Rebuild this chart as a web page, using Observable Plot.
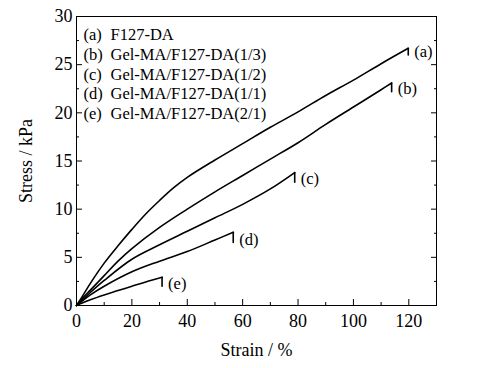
<!DOCTYPE html>
<html>
<head>
<meta charset="utf-8">
<script src="https://cdn.jsdelivr.net/npm/d3@7"></script>
<script src="https://cdn.jsdelivr.net/npm/@observablehq/plot@0.6"></script>
<style>
  html, body { margin: 0; padding: 0; background: #fff; }
  svg, svg text { font-family: "Liberation Serif", "Times New Roman", serif !important; }
</style>
</head>
<body>
<div id="chart"></div>
<script>
// Series labels
const seriesKeys = ["(a)", "(b)", "(c)", "(d)", "(e)"];
const seriesNames = ["F127-DA", "Gel-MA/F127-DA(1/3)", "Gel-MA/F127-DA(1/2)", "Gel-MA/F127-DA(1/1)", "Gel-MA/F127-DA(2/1)"];

// (a) F127-DA  (last point: end of the vertical drop at failure)
const strainA = [0, 2, 5, 10, 15, 20, 25, 30, 35, 40, 50, 60, 70, 80, 90, 100, 110, 119.8, 119.8];
const stressA = [0, 0.9, 2.3, 4.4, 6.2, 7.9, 9.5, 10.9, 12.2, 13.3, 15.1, 16.8, 18.5, 20.1, 21.8, 23.4, 25.1, 26.7, 26.0];
// (b) Gel-MA/F127-DA(1/3)
const strainB = [0, 2, 5, 10, 15, 20, 30, 40, 50, 60, 70, 80, 90, 100, 110, 113.8, 113.8];
const stressB = [0, 0.7, 1.6, 3.1, 4.6, 5.9, 8.1, 10.0, 11.8, 13.5, 15.2, 16.9, 18.8, 20.6, 22.4, 23.1, 22.2];
// (c) Gel-MA/F127-DA(1/2)
const strainC = [0, 2, 5, 10, 20, 30, 40, 50, 60, 70, 78.8, 78.8];
const stressC = [0, 0.55, 1.35, 2.6, 4.8, 6.3, 7.7, 9.1, 10.5, 12.1, 13.8, 12.8];
// (d) Gel-MA/F127-DA(1/1)
const strainD = [0, 2, 5, 10, 20, 30, 40, 50, 56.6, 56.6];
const stressD = [0, 0.45, 1.1, 2.0, 3.5, 4.6, 5.6, 6.8, 7.6, 6.55];
// (e) Gel-MA/F127-DA(2/1)
const strainE = [0, 2, 5, 10, 15, 20, 25, 30.9, 30.9];
const stressE = [0, 0.25, 0.6, 1.1, 1.55, 2.0, 2.45, 2.93, 2.0];

// Axis ticks
const xMajor = [0, 20, 40, 60, 80, 100, 120];
const xMinor = [10, 30, 50, 70, 90, 110, 130];
const yMajor = [0, 5, 10, 15, 20, 25, 30];
const yMinor = [2.5, 7.5, 12.5, 17.5, 22.5, 27.5];

const strains = [strainA, strainB, strainC, strainD, strainE];
const stresses = [stressA, stressB, stressC, stressD, stressE];

const curveRows = [];
const dropRows = [];
strains.forEach((xs, i) => {
  const n = xs.length;
  xs.forEach((x, j) => {
    const r = {series: seriesKeys[i], strain: x, stress: stresses[i][j]};
    if (j < n - 1) curveRows.push(r);
    if (j >= n - 2) dropRows.push(r);
  });
});
const ends = strains.map((xs, i) => ({series: seriesKeys[i], strain: xs[xs.length - 1], stress: stresses[i][stresses[i].length - 1]}));

const FONT = "Liberation Serif, 'Times New Roman', serif";

const chart = Plot.plot({
  width: 482,
  height: 368,
  marginLeft: 76,
  marginRight: 46,
  marginTop: 16,
  marginBottom: 63,
  style: {fontFamily: FONT, background: "#fff", color: "#000"},
  x: {domain: [0, 130]},
  y: {domain: [0, 30]},
  marks: [
    Plot.frame({stroke: "#000", strokeWidth: 1}),
    Plot.axisX({ticks: xMajor, tickSize: -6, tickPadding: 15, fontSize: 18, fontFamily: FONT, label: "Strain / %", labelAnchor: "center", labelArrow: "none", labelOffset: 50}),
    Plot.axisX({ticks: xMinor, tickSize: -3, tickFormat: () => "", label: null}),
    Plot.axisY({ticks: yMajor, tickSize: -6, tickPadding: 10, fontSize: 18, fontFamily: FONT, label: "Stress / kPa", labelAnchor: "center", labelArrow: "none", labelOffset: 57}),
    Plot.axisY({ticks: yMinor, tickSize: -3, tickFormat: () => "", label: null}),
    Plot.axisY({anchor: "right", ticks: yMajor, tickSize: -6, tickFormat: () => "", label: null}),
    Plot.axisY({anchor: "right", ticks: yMinor, tickSize: -3, tickFormat: () => "", label: null}),
    Plot.line(curveRows, {x: "strain", y: "stress", z: "series", stroke: "#000", strokeWidth: 1.6, curve: "catmull-rom"}),
    Plot.line(dropRows, {x: "strain", y: "stress", z: "series", stroke: "#000", strokeWidth: 1.6}),
    Plot.text(ends, {x: "strain", y: "stress", text: "series", dx: 6, dy: -3, textAnchor: "start", fontSize: 16.5, fontFamily: FONT, fill: "#000"}),
    Plot.text([seriesKeys.join("\n")], {frameAnchor: "top-left", dx: 7, dy: 10, lineAnchor: "top", lineHeight: 1.19, textAnchor: "start", fontSize: 16.5, fontFamily: FONT, fill: "#000"}),
    Plot.text([seriesNames.join("\n")], {frameAnchor: "top-left", dx: 34, dy: 10, lineAnchor: "top", lineHeight: 1.19, textAnchor: "start", fontSize: 16.5, fontFamily: FONT, fill: "#000"})
  ]
});
document.getElementById("chart").appendChild(chart);
</script>
</body>
</html>
